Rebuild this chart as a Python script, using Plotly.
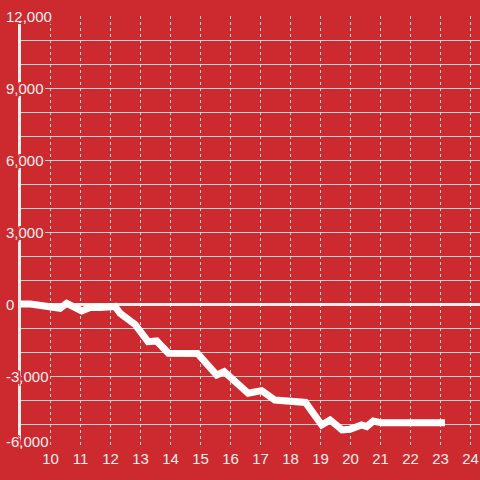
import plotly.graph_objects as go

# ---- data ----
hours = [9.0, 9.33, 10.32, 10.54, 11.04, 11.32, 11.65, 11.98, 12.15, 12.32, 12.75, 12.82,
         13.25, 13.54, 13.93, 14.76, 14.9, 15.54, 15.79, 16.59, 17.04, 17.48, 18.32, 18.5,
         19.04, 19.32, 19.72, 19.98, 20.37, 20.54, 20.76, 21.04, 23.15]
values = [0, 0, -180, 30, -290, -150, -145, -90, -100, -390, -800, -850,
          -1570, -1540, -2050, -2060, -2060, -2960, -2820, -3720, -3610, -4000, -4030, -4100,
          -5040, -4830, -5250, -5220, -5040, -5110, -4875, -4950, -4950]

x_ticks = list(range(10, 25))
y_ticks = [12000, 9000, 6000, 3000, 0, -3000, -6000]
y_tick_labels = ["12,000", "9,000", "6,000", "3,000", "0", "-3,000", "-6,000"]

BG = "#cc2a2f"
GRID = "#d2d2d2"
TXT = "#eeeeee"
FONT = "Liberation Sans, Arial, sans-serif"

fig = go.Figure()
fig.add_trace(go.Scatter(
    x=hours, y=values, mode="lines",
    line=dict(color="#ffffff", width=7),
    hoverinfo="skip", showlegend=False,
))

halo = ", ".join(f"{dx}px {dy}px 0 {BG}" for dx, dy in
                 [(2, 0), (-2, 0), (0, 2), (0, -2), (2, 2), (-2, -2), (2, -2), (-2, 2)])

Y_MIN, Y_MAX = -6000, 12000
annotations = []
for v, lab in zip(y_ticks, y_tick_labels):
    annotations.append(dict(
        x=-0.037, xref="paper", y=v, yref="y", text=lab, showarrow=False,
        xanchor="left", yanchor="middle",
        yshift=7 if v == Y_MIN else 0,
        font=dict(family=FONT, size=15, color=TXT, shadow=halo),
    ))

fig.update_layout(
    width=480, height=480,
    paper_bgcolor=BG, plot_bgcolor=BG,
    margin=dict(l=21, r=0, t=16, b=32, autoexpand=False),
    showlegend=False,
    font=dict(family=FONT, size=15, color=TXT),
    annotations=annotations,
    xaxis=dict(
        range=[9.0167, 24.317],
        tickvals=x_ticks,
        showgrid=True, gridcolor=GRID, gridwidth=1, griddash="3px,3px",
        showline=False, zeroline=False, ticks="",
        tickfont=dict(family=FONT, size=15, color=TXT),
        automargin=False,
        fixedrange=True,
    ),
    yaxis=dict(
        range=[Y_MIN, Y_MAX],
        tickvals=y_ticks, showticklabels=False,
        showgrid=True, gridcolor=GRID, gridwidth=1,
        minor=dict(dtick=1000, showgrid=True, gridcolor=GRID, gridwidth=1),
        zeroline=True, zerolinecolor="#eeeeee", zerolinewidth=3,
        showline=True, linecolor="#eeeeee", linewidth=3,
        ticks="",
        automargin=False,
        fixedrange=True,
    ),
)

fig.write_html(
    "out.html",
    config={"displayModeBar": False, "staticPlot": True},
    post_script="document.body.style.margin='0';document.body.style.padding='0';",
)
